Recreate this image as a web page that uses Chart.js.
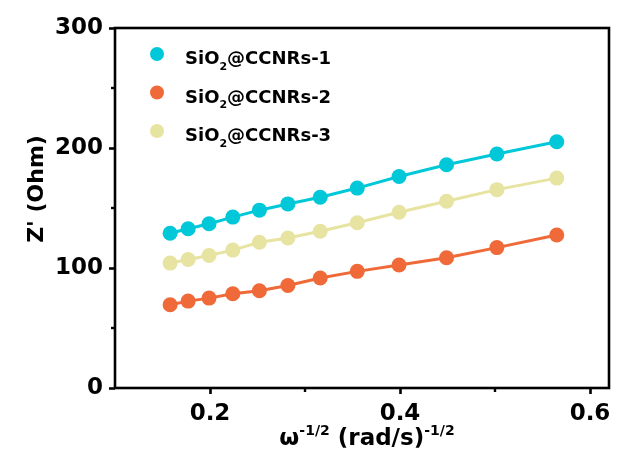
<!DOCTYPE html>
<html>
<head>
<meta charset="utf-8">
<script src="https://cdn.jsdelivr.net/npm/chart.js@4/dist/chart.umd.min.js"></script>
<style>
html,body{margin:0;padding:0;background:#fff;}
#wrap{width:617px;height:468px;}
</style>
</head>
<body>
<div id="wrap"><canvas id="c" width="617" height="468"></canvas></div>
<script>
// ---- data ----
const xValues = [0.158, 0.177, 0.199, 0.224, 0.252, 0.282, 0.316, 0.355, 0.399, 0.449, 0.502, 0.565];
const series1 = [128.9, 132.7, 136.9, 142.4, 148.2, 153.4, 158.9, 166.6, 176.3, 186.0, 195.0, 205.2];
const series2 = [69.4, 72.4, 74.9, 78.5, 81.0, 85.4, 91.7, 97.2, 102.5, 108.5, 117.0, 127.5];
const series3 = [104.1, 107.1, 110.4, 114.9, 121.5, 125.0, 130.6, 137.7, 146.5, 155.6, 165.3, 174.9];
const seriesLabels = ['SiO2@CCNRs-1', 'SiO2@CCNRs-2', 'SiO2@CCNRs-3'];
const seriesColors = ['rgb(0,200,216)', 'rgb(240,105,56)', 'rgb(231,227,160)'];
const xTicks = [0.2, 0.4, 0.6];
const xMinorTicks = [0.3, 0.5];
const yTicks = [0, 100, 200, 300];
const yMinorTicks = [50, 150, 250];
const xRange = [0.1, 0.62];
const yRange = [0, 300];

const FONT = '"DejaVu Sans", sans-serif';

function toPoints(ys){ return xValues.map((x,i)=>({x:x, y:ys[i]})); }
const allSeries = [series1, series2, series3];

// split "SiO2@..." into normal / subscript parts
function richParts(label){
  const m = label.match(/^(SiO)(2)(.*)$/);
  if(!m) return [{t:label}];
  return [{t:m[1]},{t:m[2],sub:true},{t:m[3]}];
}
function drawRich(ctx, parts, x, y, size){
  let cx = x;
  parts.forEach(p=>{
    if(p.sub){
      ctx.font = 'bold ' + Math.round(size*0.6) + 'px ' + FONT;
      ctx.fillText(p.t, cx, y + size*0.33);
    } else if(p.sup){
      ctx.font = 'bold ' + Math.round(size*0.6) + 'px ' + FONT;
      ctx.fillText(p.t, cx, y - size*0.45);
    } else {
      ctx.font = 'bold ' + size + 'px ' + FONT;
      ctx.fillText(p.t, cx, y);
    }
    cx += ctx.measureText(p.t).width;
  });
  return cx - x;
}
function measureRich(ctx, parts, size){
  let w = 0;
  parts.forEach(p=>{
    ctx.font = 'bold ' + ((p.sub||p.sup)?Math.round(size*0.6):size) + 'px ' + FONT;
    w += ctx.measureText(p.t).width;
  });
  return w;
}

const decor = {
  id:'decor',
  afterDraw(chart){
    const ctx = chart.ctx, a = chart.chartArea;
    const xs = chart.scales.x, ys = chart.scales.y;
    ctx.save();
    // frame
    ctx.strokeStyle = '#000';
    ctx.lineWidth = 2.6;
    ctx.strokeRect(a.left, a.top, a.right - a.left, a.bottom - a.top);
    // minor ticks
    ctx.lineWidth = 2.4;
    xMinorTicks.forEach(v=>{
      const px = xs.getPixelForValue(v);
      ctx.beginPath(); ctx.moveTo(px, a.bottom); ctx.lineTo(px, a.bottom + 4); ctx.stroke();
    });
    yMinorTicks.forEach(v=>{
      const py = ys.getPixelForValue(v);
      ctx.beginPath(); ctx.moveTo(a.left, py); ctx.lineTo(a.left - 4, py); ctx.stroke();
    });
    // legend
    ctx.textBaseline = 'alphabetic';
    ctx.textAlign = 'left';
    seriesLabels.forEach((lab,i)=>{
      const cy = 54 + i*38.5;
      ctx.beginPath();
      ctx.fillStyle = seriesColors[i];
      ctx.arc(157, cy, 7, 0, Math.PI*2);
      ctx.fill();
      ctx.fillStyle = '#000';
      drawRich(ctx, richParts(lab), 185, cy + 10, 18);
    });
    // x axis title
    const xt = [{t:'ω'},{t:'-1/2',sup:true},{t:' (rad/s)'},{t:'-1/2',sup:true}];
    const w = measureRich(ctx, xt, 23);
    ctx.fillStyle = '#000';
    drawRich(ctx, xt, (a.left + a.right)/2 - w/2 + 5, 445, 23);
    // y axis title
    ctx.translate(43, (a.top + a.bottom)/2 - 19);
    ctx.rotate(-Math.PI/2);
    ctx.font = 'bold 22px ' + FONT;
    ctx.textAlign = 'center';
    ctx.textBaseline = 'alphabetic';
    ctx.fillText("Z' (Ohm)", 0, 0);
    ctx.restore();
  }
};

new Chart(document.getElementById('c'), {
  type: 'scatter',
  data: {
    datasets: allSeries.map((s,i)=>({
      label: seriesLabels[i],
      data: toPoints(s),
      showLine: true,
      borderColor: seriesColors[i],
      backgroundColor: seriesColors[i],
      borderWidth: 3,
      pointRadius: 7.5,
      pointHoverRadius: 7.5,
      pointBorderWidth: 0,
      tension: 0
    }))
  },
  options: {
    responsive: false,
    animation: false,
    devicePixelRatio: 1,
    layout: { padding: { top: 28, right: 8, left: 0, bottom: 0 } },
    plugins: { legend: { display: false }, tooltip: { enabled: false } },
    scales: {
      x: {
        type: 'linear',
        min: xRange[0], max: xRange[1],
        afterBuildTicks: s => { s.ticks = xTicks.map(v=>({value:v})); },
        afterFit: s => { s.height = 80; },
        grid: { display: true, drawOnChartArea: false, drawTicks: true, tickLength: 6, tickWidth: 2.6, tickColor: '#000' },
        border: { display: false },
        ticks: { color: '#000', padding: 6, font: { family: FONT, weight: 'bold', size: 23 }, callback: v => String(v) }
      },
      y: {
        type: 'linear',
        min: yRange[0], max: yRange[1],
        afterBuildTicks: s => { s.ticks = yTicks.map(v=>({value:v})); },
        afterFit: s => { s.width = 115; },
        grid: { display: true, drawOnChartArea: false, drawTicks: true, tickLength: 6, tickWidth: 2.6, tickColor: '#000' },
        border: { display: false },
        ticks: { color: '#000', padding: 6, font: { family: FONT, weight: 'bold', size: 23 }, callback: v => String(v) }
      }
    }
  },
  plugins: [decor]
});
</script>
</body>
</html>
